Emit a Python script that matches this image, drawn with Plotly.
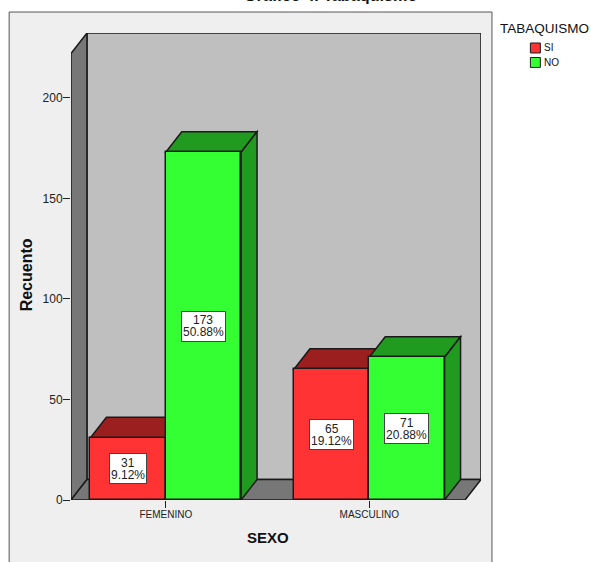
import plotly.graph_objects as go

categories = ["FEMENINO", "MASCULINO"]
series_names = ["SI", "NO"]
si_counts = [31, 65]
no_counts = [173, 71]
si_pct = ["9.12%", "19.12%"]
no_pct = ["50.88%", "20.88%"]
y_ticks = [0, 50, 100, 150, 200]

W, H = 591, 562
L, R, T, B = 70.5, 481.5, 33, 500.5   # plot box in page pixels
PX_X = 204.0                          # pixels per category step
PX_Y = 2.0125                         # pixels per count
X0 = (70 - 165) / PX_X
X1 = (481 - 165) / PX_X
Y1 = (B - T) / PX_Y
DX = 16 / PX_X                        # oblique depth of the 3-D projection
DY = 20.5 / PX_Y
BAR = 75.5 / PX_X

RED, RED_DK = "#ff3333", "#9b1f1f"
GREEN, GREEN_DK = "#33ff33", "#209b20"
EDGE = "#1a1a1a"
FONT = "Liberation Sans"


def px(x):
    """Page pixel column to paper fraction."""
    return (x - L) / (R - L)


def py(y):
    """Page pixel row to paper fraction."""
    return (B - y) / (B - T)


def poly(points, fill):
    path = "M" + "L".join(f"{x},{y}" for x, y in points) + "Z"
    return dict(type="path", path=path, xref="x", yref="y", fillcolor=fill,
                line=dict(color=EDGE, width=1.5), layer="below")


XR = X1 - DX
YT = Y1 - DY
shapes = [
    # outer chart frame, open past the bottom of the page
    dict(type="rect", xref="paper", yref="paper", x0=px(8.5), x1=px(492.5),
         y0=py(570), y1=py(12), fillcolor="#efefef",
         line=dict(color="#555555", width=1), layer="below"),
    # back wall, left wall and floor
    poly([(X0 + DX, DY), (X1, DY), (X1, Y1), (X0 + DX, Y1)], "#bfbfbf"),
    poly([(X0, 0), (X0, YT), (X0 + DX, Y1), (X0 + DX, DY)], "#777777"),
    poly([(X0, 0), (X0 + DX, DY), (X1, DY), (XR, 0)], "#777777"),
]


def box_faces(left, right, value, shade):
    return [
        poly([(left, value), (left + DX, value + DY), (right + DX, value + DY),
              (right, value)], shade),
        poly([(right, 0), (right, value), (right + DX, value + DY),
              (right + DX, DY)], shade),
    ]


positions = list(range(len(categories)))
for i in positions:
    shapes += box_faces(i - BAR, i, si_counts[i], RED_DK)
for i in positions:
    shapes += box_faces(i, i + BAR, no_counts[i], GREEN_DK)

fig = go.Figure()
fig.add_bar(name=series_names[0], x=positions, y=si_counts, width=BAR, offset=-BAR,
            marker=dict(color=RED, line=dict(color=EDGE, width=1.5)))
fig.add_bar(name=series_names[1], x=positions, y=no_counts, width=BAR, offset=0,
            marker=dict(color=GREEN, line=dict(color=EDGE, width=1.5)))

annotations = []


def value_label(x, count, pct):
    width = 36 if len(pct) < 6 else 43
    annotations.append(dict(x=x, y=count / 2, text=" ", showarrow=False,
                            width=width, height=29, bgcolor="white",
                            bordercolor="#444444", borderwidth=1, borderpad=0,
                            font=dict(size=12)))
    for text, shift in ((str(count), 6), (pct, -6)):
        annotations.append(dict(x=x, y=count / 2, text=text, showarrow=False,
                                yshift=shift,
                                font=dict(size=12, color="#222222", family=FONT)))


for i in positions:
    value_label(i - BAR / 2, si_counts[i], si_pct[i])
    value_label(i + BAR / 2, no_counts[i], no_pct[i])


def page_text(x, y, text, size, xanchor="center", yanchor="middle", angle=0):
    annotations.append(dict(xref="paper", yref="paper", x=px(x), y=py(y), text=text,
                            showarrow=False, xanchor=xanchor, yanchor=yanchor,
                            textangle=angle, borderpad=0,
                            font=dict(size=size, color="#111111", family=FONT)))


page_text(331, 5, "<b>Gráfico 4. Tabaquismo</b>", 16.2, yanchor="bottom")
page_text(26, 275, "<b>Recuento</b>", 16, angle=-90)
page_text(267.5, 538, "<b>SEXO</b>", 15)
page_text(500, 28, "TABAQUISMO", 13.5, xanchor="left")

# legend swatches and their labels
for name, color, top in zip(series_names, (RED, GREEN), (43, 57.5)):
    shapes.append(dict(type="rect", xref="paper", yref="paper", x0=px(531), x1=px(541),
                       y0=py(top + 10), y1=py(top), fillcolor=color,
                       line=dict(color=EDGE, width=1), layer="above"))
    page_text(544, top + 5, name, 10, xanchor="left")

fig.update_layout(
    width=W, height=H, autosize=False,
    margin=dict(l=L, r=W - R, t=T, b=H - B, pad=0),
    paper_bgcolor="white", plot_bgcolor="rgba(0,0,0,0)",
    barmode="overlay", bargap=0, showlegend=False,
    font=dict(family=FONT, color="#222222"),
    shapes=shapes, annotations=annotations,
    xaxis=dict(range=[X0, X1], tickmode="array", tickvals=positions, ticktext=categories,
               ticks="outside", ticklen=7, tickwidth=1, tickcolor="#222222",
               ticklabelstandoff=-2,
               tickfont=dict(size=10, color="#222222"), showgrid=False, zeroline=False,
               showline=False),
    yaxis=dict(range=[0, Y1], tickmode="array", tickvals=y_ticks,
               ticks="outside", ticklen=7, tickwidth=1, tickcolor="#222222",
               ticklabelstandoff=-2,
               tickfont=dict(size=12, color="#222222"), showgrid=False, zeroline=False,
               showline=False),
)

fig.write_html("out.html")
